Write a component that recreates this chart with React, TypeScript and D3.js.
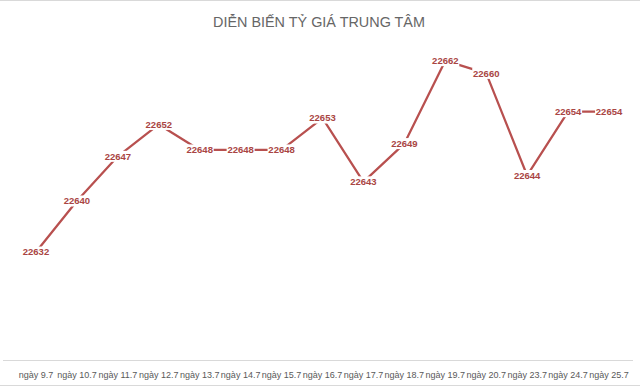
import React, { useEffect, useRef } from "react";
import * as d3 from "d3";

const categories = ["ngày 9.7", "ngày 10.7", "ngày 11.7", "ngày 12.7", "ngày 13.7", "ngày 14.7", "ngày 15.7", "ngày 16.7", "ngày 17.7", "ngày 18.7", "ngày 19.7", "ngày 20.7", "ngày 23.7", "ngày 24.7", "ngày 25.7"];
const values = [22632, 22640, 22647, 22652, 22648, 22648, 22648, 22653, 22643, 22649, 22662, 22660, 22644, 22654, 22654];
const title = "DIỄN BIẾN TỶ GIÁ TRUNG TÂM";

const W = 640;
const H = 386;

export default function App() {
  const ref = useRef<SVGSVGElement>(null);
  useEffect(() => {
    document.body.style.margin = "0";
    const svg = d3.select(ref.current);
    svg.selectAll("*").remove();

    const x = d3.scaleBand<string>().domain(categories).range([15.5, 629.5]);
    const y = d3.scaleLinear().domain([22615, 22665]).range([360.5, 41.5]);
    const cx = (c: string) => (x(c) as number) + x.bandwidth() / 2;

    svg.append("rect").attr("x", 0).attr("y", 0).attr("width", W).attr("height", H).attr("fill", "#ffffff");
    svg.append("line").attr("x1", 0).attr("x2", W).attr("y1", 0.5).attr("y2", 0.5).attr("stroke", "#d9d9d9");
    svg.append("line").attr("x1", 0).attr("x2", W).attr("y1", 385.5).attr("y2", 385.5).attr("stroke", "#d9d9d9");

    svg.append("text")
      .attr("x", 319).attr("y", 27)
      .attr("text-anchor", "middle")
      .attr("font-family", "Liberation Sans, Arial, sans-serif")
      .attr("font-size", 14.4)
      .attr("fill", "#666666")
      .text(title);

    // x axis
    svg.append("line").attr("x1", 3).attr("x2", 633).attr("y1", 360.5).attr("y2", 360.5).attr("stroke", "#d9d9d9");
    svg.append("g").selectAll("text").data(categories).join("text")
      .attr("x", (d) => cx(d)).attr("y", 377.5)
      .attr("text-anchor", "middle")
      .attr("font-family", "Liberation Sans, Arial, sans-serif")
      .attr("font-size", 9)
      .attr("fill", "#595959")
      .text((d) => d);

    const line = d3.line<number>().x((_, i) => cx(categories[i])).y((v) => y(v));
    svg.append("path").datum(values).attr("d", line).attr("fill", "none")
      .attr("stroke", "#b8504f").attr("stroke-width", 2.25).attr("stroke-linejoin", "round");

    const lbl = svg.append("g").selectAll("g").data(values).join("g")
      .attr("transform", (v, i) => `translate(${cx(categories[i])},${y(v)})`);
    lbl.append("rect").attr("x", -14).attr("y", -5.5).attr("width", 28).attr("height", 11).attr("fill", "#ffffff");
    lbl.append("text")
      .attr("text-anchor", "middle").attr("dy", "0.35em")
      .attr("font-family", "Liberation Sans, Arial, sans-serif")
      .attr("font-size", 9.5).attr("font-weight", "bold")
      .attr("fill", "#a94543")
      .text((v) => String(v));
  }, []);
  return <svg ref={ref} width={W} height={H} style={{ display: "block" }} />;
}
